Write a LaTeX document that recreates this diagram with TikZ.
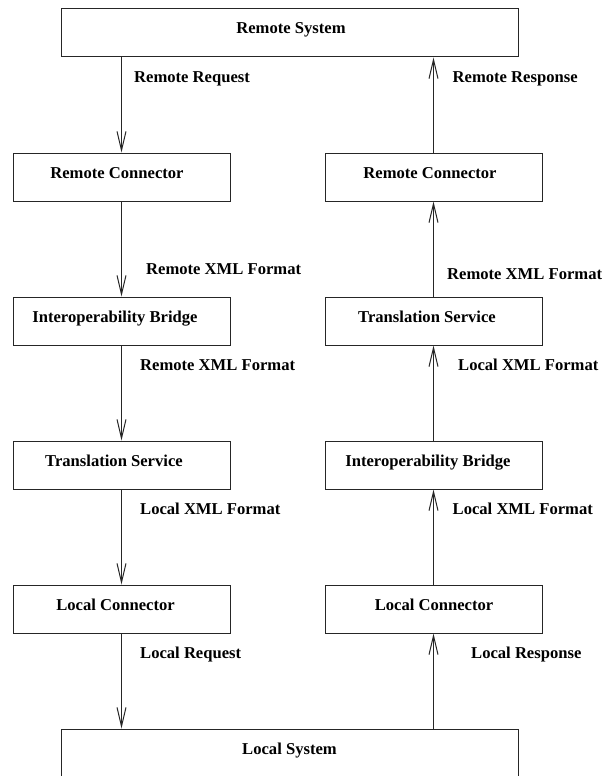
\documentclass[tikz,border=0pt]{standalone}
\usepackage{fontspec}
\setmainfont{Liberation Serif}
\usetikzlibrary{arrows.meta}
\begin{document}
\begin{tikzpicture}[x=1pt,y=-1pt,
  box/.style={draw=black!85, line width=1pt, inner sep=0pt, minimum height=48pt, minimum width=217pt},
  sysbox/.style={box, minimum width=457pt},
  txt/.style={inner sep=0pt, anchor=base, font=\fontsize{16.6}{20}\selectfont\bfseries},
  lbl/.style={inner sep=0pt, anchor=base west, font=\fontsize{16.6}{20}\selectfont\bfseries},
  arr/.style={draw=black!85, line width=1pt, -{Straight Barb[length=19pt,width=9pt]}}]
\useasboundingbox (0,0) rectangle (603,776);
\clip (0,0) rectangle (603,776);
% boxes
\node[sysbox] (rs) at (289.5,33) {};
\node[box] (l1) at (121.5,177) {};
\node[box] (l2) at (121.5,321) {};
\node[box] (l3) at (121.5,465) {};
\node[box] (l4) at (121.5,609) {};
\node[box] (r1) at (433.5,177) {};
\node[box] (r2) at (433.5,321) {};
\node[box] (r3) at (433.5,465) {};
\node[box] (r4) at (433.5,609) {};
\node[sysbox, minimum height=80pt] (ls) at (289.5,769) {};
% box texts
\node[txt] (trs) at (291,34) {Remote System};
\node[txt] (tl1) at (117,178) {Remote Connector};
\node[txt] (tl2) at (115,322) {Interoperability Bridge};
\node[txt] (tl3) at (114,466) {Translation Service};
\node[txt] (tl4) at (115.5,610) {Local Connector};
\node[txt] (tr1) at (430,178) {Remote Connector};
\node[txt] (tr2) at (427,322) {Translation Service};
\node[txt] (tr3) at (428,466) {Interoperability Bridge};
\node[txt] (tr4) at (434,610) {Local Connector};
\node[txt] (tls) at (289.5,754) {Local System};
% left arrows (downward)
\draw[arr] (rs.south -| l1.north) -- (l1.north);
\draw[arr] (l1.south) -- (l2.north);
\draw[arr] (l2.south) -- (l3.north);
\draw[arr] (l3.south) -- (l4.north);
\draw[arr] (l4.south) -- (ls.north -| l4.south);
% right arrows (upward)
\draw[arr] (ls.north -| r4.south) -- (r4.south);
\draw[arr] (r4.north) -- (r3.south);
\draw[arr] (r3.north) -- (r2.south);
\draw[arr] (r2.north) -- (r1.south);
\draw[arr] (r1.north) -- (rs.south -| r1.north);
% arrow labels
\node[lbl] (a1) at (134,82) {Remote Request};
\node[lbl] (a2) at (452.5,82) {Remote Response};
\node[lbl] (a3) at (146,274) {Remote XML Format};
\node[lbl] (a4) at (447,279) {Remote XML Format};
\node[lbl] (a5) at (140,370) {Remote XML Format};
\node[lbl] (a6) at (458,370) {Local XML Format};
\node[lbl] (a7) at (140,514) {Local XML Format};
\node[lbl] (a8) at (452.5,514) {Local XML Format};
\node[lbl] (a9) at (140,658) {Local Request};
\node[lbl] (a10) at (471,658) {Local Response};
\end{tikzpicture}
\end{document}
